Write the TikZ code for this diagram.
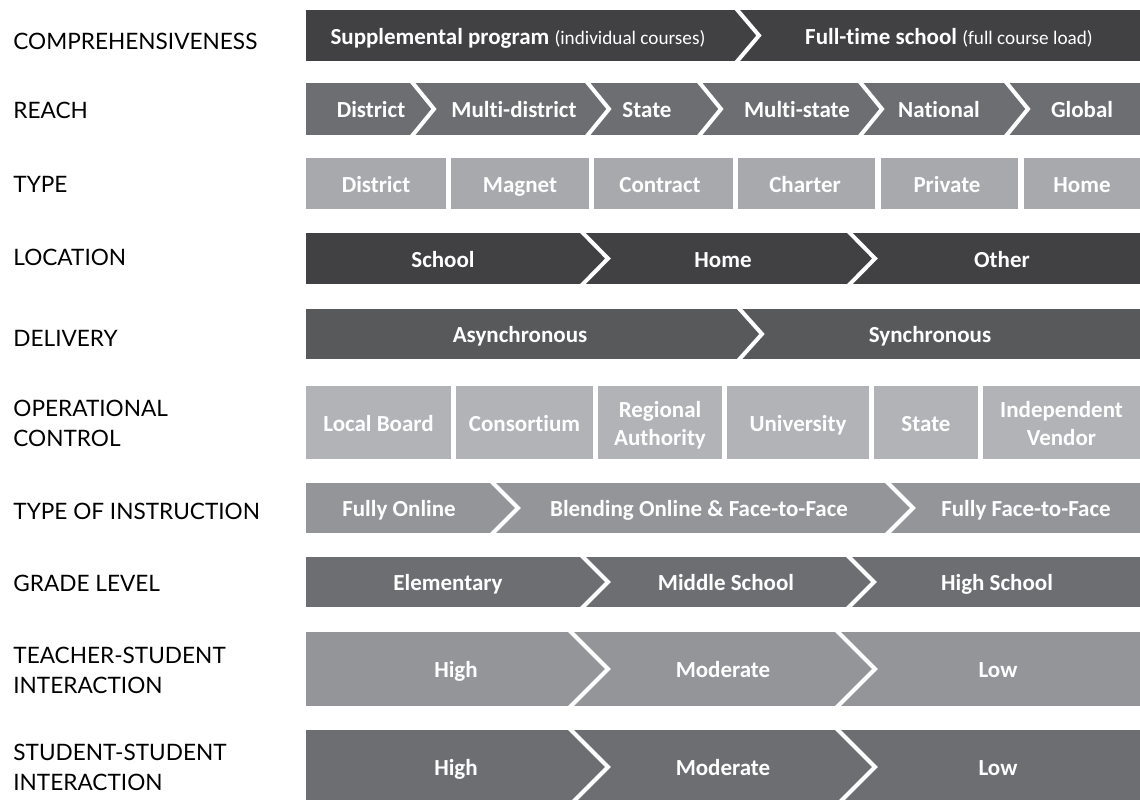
\documentclass[tikz,border=0pt]{standalone}
\usepackage{fontspec}
\setmainfont{Lato}
\newfontfamily\cellfont[Ligatures=NoCommon]{Carlito}
\usetikzlibrary{positioning}
\usetikzlibrary{calc}
\definecolor{barA}{HTML}{414042}
\definecolor{barB}{HTML}{6D6E71}
\definecolor{barC}{HTML}{A7A9AC}
\definecolor{barD}{HTML}{58595B}
\definecolor{barE}{HTML}{B1B3B6}
\definecolor{barF}{HTML}{939598}

\begin{document}
\begin{tikzpicture}[x=0.5pt,y=-0.5pt]
		\tikzset{rowlabel/.style = {anchor=west, align=left, inner sep=0pt, font=\fontsize{11.3}{15}\selectfont},
			cell/.style = {text=white, align=center, inner sep=0pt, text height=11pt, text depth=2.4pt, font=\cellfont\bfseries\fontsize{11.5}{14}\selectfont},
			twoline/.style = {text height=25pt},
			sep/.style = {draw=white, line width=2pt}}
		\useasboundingbox (0,0) rectangle (1140,799);
		
		% row labels
		\node[rowlabel] (COMP) at (13,41) {COMPREHENSIVENESS};
		\node[rowlabel] (REACH) at (13,110) {REACH};
		\node[rowlabel] (TYPE) at (13,184) {TYPE};
		\node[rowlabel] (LOC) at (13,257) {LOCATION};
		\node[rowlabel] (DELIV) at (13,338) {DELIVERY};
		\node[rowlabel] (OPCTRL) at (13,423) {OPERATIONAL\\CONTROL};
		\node[rowlabel] (INSTR) at (13,511) {TYPE OF INSTRUCTION};
		\node[rowlabel] (GRADE) at (13,583) {GRADE LEVEL};
		\node[rowlabel] (TSI) at (13,670) {TEACHER-STUDENT\\INTERACTION};
		\node[rowlabel] (SSI) at (13,767) {STUDENT-STUDENT\\INTERACTION};
		
		% comprehensiveness
		\fill[barA] (306,10) rectangle (1140,61);
		\draw[sep] (734,6) -- (759,35.5) -- (734,65);
		\node[cell] (comp1) at (518,36) {Supplemental program {\mdseries\fontsize{9.6}{10}\selectfont (individual courses)}};
		\node[cell] (comp2) at (949,36) {Full-time school {\mdseries\fontsize{9.6}{10}\selectfont (full course load)}};
		
		% reach
		\fill[barB] (306,83) rectangle (1140,135);
		\foreach \b in {413,588,700,861,1007}
			\draw[sep] (\b-3.5,79) -- (\b+21,109) -- (\b-3.5,139);
		\node[cell] (reach1) at (371,109) {District};
		\node[cell] (reach2) at (514,109) {Multi-district};
		\node[cell] (reach3) at (647,109) {State};
		\node[cell] (reach4) at (797,109) {Multi-state};
		\node[cell] (reach5) at (939,109) {National};
		\node[cell] (reach6) at (1082,109) {Global};
		
		% type
		\fill[barC] (306,158) rectangle (446,209);
		\fill[barC] (451,158) rectangle (589,209);
		\fill[barC] (594,158) rectangle (733,209);
		\fill[barC] (738,158) rectangle (875,209);
		\fill[barC] (881,158) rectangle (1018,209);
		\fill[barC] (1024,158) rectangle (1140,209);
		\node[cell] (type1) at (376,183.5) {District};
		\node[cell] (type2) at (520,183.5) {Magnet};
		\node[cell] (type3) at (660,183.5) {Contract};
		\node[cell] (type4) at (805,183.5) {Charter};
		\node[cell] (type5) at (947,183.5) {Private};
		\node[cell] (type6) at (1082,183.5) {Home};
		
		% location
		\fill[barA] (306,233) rectangle (1140,284);
		\foreach \b in {583,850}
			\draw[sep] (\b-4,229) -- (\b+25,258.5) -- (\b-4,288);
		\node[cell] (loc1) at (443,258.5) {School};
		\node[cell] (loc2) at (723,258.5) {Home};
		\node[cell] (loc3) at (1002,258.5) {Other};
		
		% delivery
		\fill[barD] (306,309) rectangle (1140,359);
		\draw[sep] (736,305) -- (762,334) -- (736,363);
		\node[cell] (deliv1) at (520,334) {Asynchronous};
		\node[cell] (deliv2) at (930,334) {Synchronous};
		
		% operational control
		\fill[barE] (306,386) rectangle (451,459);
		\fill[barE] (456,386) rectangle (593,459);
		\fill[barE] (598,386) rectangle (722,459);
		\fill[barE] (727,386) rectangle (869,459);
		\fill[barE] (874,386) rectangle (978,459);
		\fill[barE] (983,386) rectangle (1140,459);
		\node[cell] (op1) at (378.5,422.5) {Local Board};
		\node[cell] (op2) at (524.5,422.5) {Consortium};
		\node[cell, twoline] (op3) at (660,422.5) {Regional\\Authority};
		\node[cell] (op4) at (798,422.5) {University};
		\node[cell] (op5) at (926,422.5) {State};
		\node[cell, twoline] (op6) at (1061.5,422.5) {Independent\\Vendor};
		
		% type of instruction
		\fill[barF] (306,483) rectangle (1140,533);
		\foreach \b in {493,888}
			\draw[sep] (\b-4,479) -- (\b+25,508) -- (\b-4,537);
		\node[cell] (instr1) at (399,508) {Fully Online};
		\node[cell] (instr2) at (699,508) {Blending Online \& Face-to-Face};
		\node[cell] (instr3) at (1026,508) {Fully Face-to-Face};
		
		% grade level
		\fill[barB] (306,557) rectangle (1140,607);
		\foreach \b in {583,849}
			\draw[sep] (\b-4,553) -- (\b+25,582) -- (\b-4,611);
		\node[cell] (grade1) at (448,582) {Elementary};
		\node[cell] (grade2) at (726,582) {Middle School};
		\node[cell] (grade3) at (997,582) {High School};
		
		% teacher-student interaction
		\fill[barF] (306,632) rectangle (1140,706);
		\foreach \b in {571,838}
			\draw[sep] (\b-4,628) -- (\b+37,669) -- (\b-4,710);
		\node[cell] (tsi1) at (456,669) {High};
		\node[cell] (tsi2) at (723,669) {Moderate};
		\node[cell] (tsi3) at (998,669) {Low};
		
		% student-student interaction
		\fill[barB] (306,730) rectangle (1140,804);
		\foreach \b in {571,838}
			\draw[sep] (\b-4,726) -- (\b+37,767) -- (\b-4,808);
		\node[cell] (ssi1) at (456,767) {High};
		\node[cell] (ssi2) at (723,767) {Moderate};
		\node[cell] (ssi3) at (998,767) {Low};
		
\end{tikzpicture}
\end{document}
